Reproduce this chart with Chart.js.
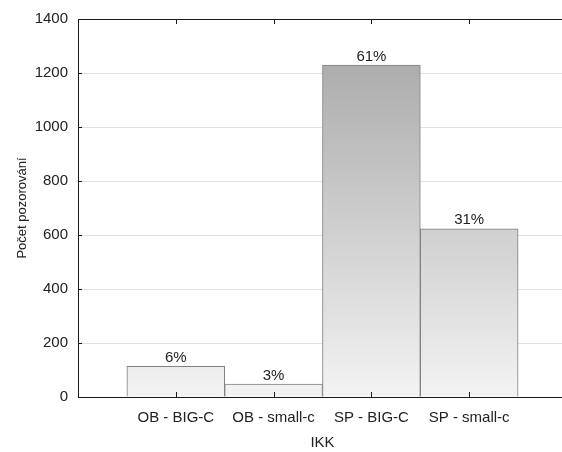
<!DOCTYPE html>
<html>
<head>
<meta charset="utf-8">
<script src="https://cdn.jsdelivr.net/npm/chart.js@4/dist/chart.umd.min.js"></script>
<style>
  html, body { margin: 0; padding: 0; background: #fff; overflow: hidden; width: 562px; height: 452px; }
  canvas { position: absolute; left: 0; top: 0; }
</style>
</head>
<body>
<canvas id="c" width="575" height="452"></canvas>
<script>
// Počet pozorování podle skupiny IKK
const categories = ['OB - BIG-C', 'OB - small-c', 'SP - BIG-C', 'SP - small-c'];
const counts = [114, 48, 1229, 623];
const shareLabels = ['6%', '3%', '61%', '31%'];
const yTicks = [0, 200, 400, 600, 800, 1000, 1200, 1400];

const FONT = "'Liberation Sans', Arial, sans-serif";
const AXIS = '#1a1a1a';

// Vertical grey gradient spanning the whole plot area
function barFill(ctx) {
  const chart = ctx.chart;
  const a = chart.chartArea;
  if (!a) return '#dddddd';
  const g = chart.ctx.createLinearGradient(0, a.top, 0, a.bottom);
  g.addColorStop(0, '#a3a3a3');
  g.addColorStop(1, '#f3f3f3');
  return g;
}

// Frame line on top, inward tick marks and value labels above bars
const framePlugin = {
  id: 'frame',
  afterDatasetsDraw(chart) {
    const { ctx, chartArea: a, scales } = chart;
    ctx.save();
    ctx.strokeStyle = AXIS;
    ctx.lineWidth = 1;
    ctx.beginPath();
    ctx.moveTo(a.left, Math.round(a.top) + 0.5);
    ctx.lineTo(a.right, Math.round(a.top) + 0.5);
    // ticks on the left axis
    yTicks.forEach(v => {
      const y = Math.round(scales.y.getPixelForValue(v)) + 0.5;
      ctx.moveTo(a.left, y);
      ctx.lineTo(a.left + 4, y);
    });
    // ticks at category centres, bottom and top
    categories.forEach((_, i) => {
      const x = Math.round(scales.x.getPixelForValue(i)) + 0.5;
      ctx.moveTo(x, a.bottom);
      ctx.lineTo(x, a.bottom - 5);
      ctx.moveTo(x, a.top);
      ctx.lineTo(x, a.top + 5);
    });
    ctx.stroke();

    // share labels
    ctx.fillStyle = '#222';
    ctx.font = '15px ' + FONT;
    ctx.textAlign = 'center';
    ctx.textBaseline = 'bottom';
    const meta = chart.getDatasetMeta(0);
    meta.data.forEach((bar, i) => {
      ctx.fillText(shareLabels[i], bar.x, bar.y - 1);
    });
    ctx.restore();
  }
};

new Chart(document.getElementById('c'), {
  type: 'bar',
  data: {
    datasets: [{
      data: counts.map((v, i) => ({ x: i, y: v })),
      backgroundColor: barFill,
      borderColor: '#7f7f7f',
      borderWidth: 1,
      borderSkipped: 'bottom',
      barPercentage: 1,
      categoryPercentage: 1
    }]
  },
  options: {
    responsive: false,
    animation: false,
    devicePixelRatio: 1,
    layout: { padding: { top: 17, right: 8, bottom: 0, left: 0 } },
    plugins: { legend: { display: false }, tooltip: { enabled: false } },
    scales: {
      x: {
        type: 'linear',
        offset: false,
        min: -1,
        max: 4,
        afterBuildTicks(scale) {
          scale.ticks = categories.map((_, i) => ({ value: i }));
        },
        afterFit(scale) { scale.height = 55; },
        grid: { display: false, drawTicks: false },
        border: { display: true, color: AXIS, width: 1 },
        ticks: {
          padding: 12,
          color: '#222',
          font: { family: FONT, size: 15 },
          maxRotation: 0,
          autoSkip: false,
          callback: v => categories[v] ?? ''
        },
        title: {
          display: true,
          text: 'IKK',
          color: '#222',
          font: { family: FONT, size: 15 },
          padding: { top: 0, bottom: 0 }
        }
      },
      y: {
        min: 0,
        max: 1400,
        afterBuildTicks(scale) {
          scale.ticks = yTicks.map(v => ({ value: v }));
        },
        afterFit(scale) { scale.width = 78; },
        grid: { color: '#e1e1e1', drawTicks: false },
        border: { display: true, color: AXIS, width: 1 },
        ticks: {
          padding: 10,
          color: '#222',
          font: { family: FONT, size: 15 },
          callback: v => String(v)
        },
        title: {
          display: true,
          text: 'Počet pozorování',
          color: '#222',
          font: { family: FONT, size: 13 },
          padding: { top: 15, bottom: 0 }
        }
      }
    }
  },
  plugins: [framePlugin]
});
</script>
</body>
</html>
